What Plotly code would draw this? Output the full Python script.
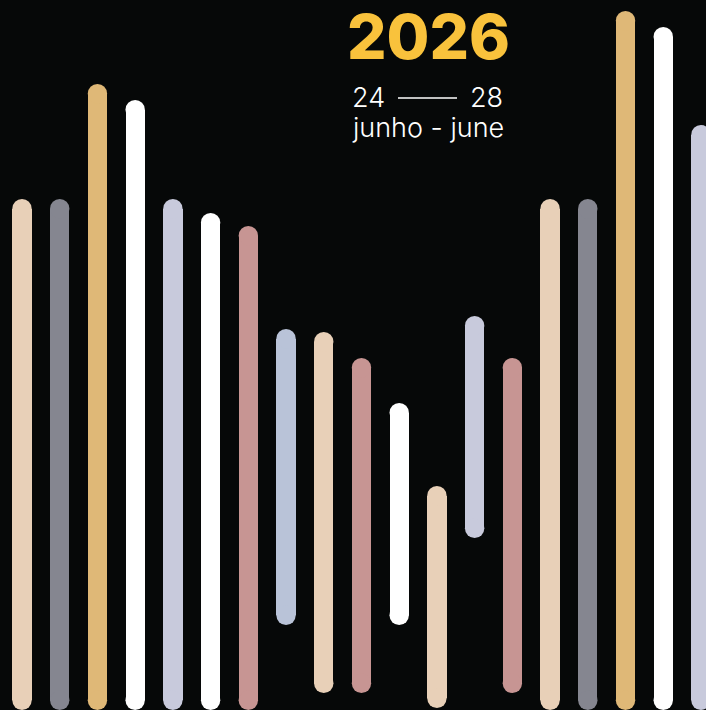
import plotly.graph_objects as go

# Bar data (heights measured from the bottom edge of the poster)
positions = list(range(19))
tops = [511, 511, 626, 610, 511, 497, 484, 381, 378, 352, 307, 224, 394, 352, 511, 511, 699, 683, 585]
bottoms = [0, 0, 0, 0, 0, 0, 0, 85, 17, 17, 85, 2, 172, 17, 0, 0, 0, 0, 0]
colors = ["#E8D0B8", "#858690", "#DFB877", "#FFFFFF", "#C8CADC", "#FFFFFF", "#C79593",
          "#B9C3D8", "#E8D0B8", "#C79593", "#FFFFFF", "#E8D0B8", "#C8CADC", "#C79593",
          "#E8D0B8", "#858690", "#DFB877", "#FFFFFF", "#C8CADC"]

title_text = "2026"
date_start = "24"
date_end = "28"
month_text = "junho - june"

W, H = 706, 710
BG = "#060808"
R = 9.7  # cap radius (px == data units on y)
bar_w = 0.512

fig = go.Figure()
body_base = [b + R for b in bottoms]
body_len = [t - b - 2 * R for t, b in zip(tops, bottoms)]
fig.add_trace(go.Bar(x=positions, y=body_len, base=body_base, width=bar_w,
                     marker=dict(color=colors, line=dict(width=0)), hoverinfo="skip"))
fig.add_trace(go.Scatter(x=positions + positions,
                         y=[t - R for t in tops] + [b + R for b in bottoms],
                         mode="markers", cliponaxis=True,
                         marker=dict(size=2 * R, color=colors + colors, line=dict(width=0)),
                         hoverinfo="skip"))

x0 = -22 / 37.72
x1 = (W - 22) / 37.72
fig.update_layout(
    width=W, height=H, margin=dict(l=0, r=0, t=0, b=0),
    paper_bgcolor=BG, plot_bgcolor=BG, showlegend=False, bargap=0,
    xaxis=dict(range=[x0, x1], visible=False, fixedrange=True),
    yaxis=dict(range=[0, H], visible=False, fixedrange=True),
)

fig.add_annotation(x=428 / W, y=1 - 36 / H, xref="paper", yref="paper", text=title_text,
                   showarrow=False, xanchor="center", yanchor="middle",
                   font=dict(family="Inter", size=62, color="#F9C23C", weight=800))
fig.add_annotation(x=369 / W, y=1 - 97 / H, xref="paper", yref="paper", text=date_start,
                   showarrow=False, xanchor="center", yanchor="middle",
                   font=dict(family="Inter", size=27, color="#FFFFFF", weight=300))
fig.add_annotation(x=486 / W, y=1 - 97 / H, xref="paper", yref="paper", text=date_end,
                   showarrow=False, xanchor="center", yanchor="middle",
                   font=dict(family="Inter", size=27, color="#FFFFFF", weight=300))
fig.add_shape(type="line", xref="paper", yref="paper", x0=398 / W, x1=457 / W,
              y0=1 - 98 / H, y1=1 - 98 / H, line=dict(color="#FFFFFF", width=1.5))
fig.add_annotation(x=428 / W, y=1 - 128 / H, xref="paper", yref="paper", text=month_text,
                   showarrow=False, xanchor="center", yanchor="middle",
                   font=dict(family="Inter", size=27, color="#FFFFFF", weight=300))

fig.write_html("out.html", config={"displayModeBar": False},
               post_script="document.body.style.margin='0';document.body.style.background='%s';" % BG)
